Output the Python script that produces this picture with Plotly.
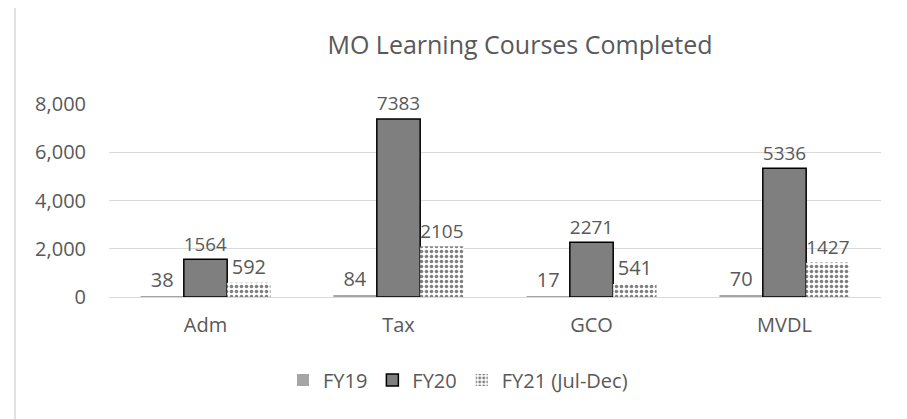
import plotly.graph_objects as go

categories = ["Adm", "Tax", "GCO", "MVDL"]
fy19 = [38, 84, 17, 70]
fy20 = [1564, 7383, 2271, 5336]
fy21 = [592, 2105, 541, 1427]
series_names = ["FY19", "FY20", "FY21 (Jul-Dec)"]
title_text = "MO Learning Courses Completed"
y_ticks = [0, 2000, 4000, 6000, 8000]

FONT = "Open Sans"
TXT = "#595959"

# page has an 8px body margin; plot area targets page x 109..881, y 104..297
OFF = 8
PL, PR, PT, PB = 109, 881, 104, 297
PW, PH = PR - PL, PB - PT

fig = go.Figure()
fig.add_trace(go.Bar(
    name=series_names[0], x=categories, y=fy19,
    marker=dict(color="#A5A5A5", line=dict(width=0)),
    text=[str(v) for v in fy19], textposition="outside",
    textfont=dict(family=FONT, size=20, color=TXT), cliponaxis=False,
))
fig.add_trace(go.Bar(
    name=series_names[1], x=categories, y=fy20,
    marker=dict(color="#7F7F7F", line=dict(width=1.5, color="#000000")),
    text=[str(v) for v in fy20], textposition="outside",
    textfont=dict(family=FONT, size=20, color=TXT), cliponaxis=False,
))
fig.add_trace(go.Bar(
    name=series_names[2], x=categories, y=fy21,
    marker=dict(color="#FFFFFF", line=dict(width=0),
                pattern=dict(shape=".", fgcolor="#000000", bgcolor="#FFFFFF",
                             size=5, solidity=0.4, fillmode="overlay")),
    text=[str(v) for v in fy21], textposition="outside",
    textfont=dict(family=FONT, size=20, color=TXT), cliponaxis=False,
))

W, H = 907, 419
fig.update_layout(
    width=W, height=H,
    margin=dict(l=PL - OFF, r=W - (PR - OFF), t=PT - OFF, b=H - (PB - OFF)),
    paper_bgcolor="#FFFFFF", plot_bgcolor="#FFFFFF",
    barmode="group", bargap=0.326, bargroupgap=0,
    font=dict(family=FONT, color=TXT, size=20),
    title=dict(text=title_text, x=(520 - OFF) / W, xref="container", xanchor="center",
               y=1 - (45 - OFF) / H, yref="container", yanchor="middle",
               font=dict(family=FONT, size=25, color=TXT)),
    showlegend=True,
    legend=dict(orientation="h", x=0.4417 + OFF / PW, xanchor="center",
                y=(PB - 380) / PH, yanchor="middle",
                font=dict(family=FONT, size=20, color=TXT), bgcolor="rgba(0,0,0,0)",
                traceorder="normal"),
    xaxis=dict(showgrid=False, showline=False, zeroline=False, ticks="",
               tickfont=dict(family=FONT, size=20, color=TXT), ticklabelstandoff=14),
    yaxis=dict(range=[0, 8000], tickvals=y_ticks, tickformat=",", showgrid=True,
               gridcolor="#D9D9D9", gridwidth=1, zeroline=True, zerolinecolor="#D9D9D9",
               zerolinewidth=1, showline=False, ticks="",
               tickfont=dict(family=FONT, size=20, color=TXT), ticklabelstandoff=22),
    shapes=[dict(type="rect", xref="paper", yref="paper",
                 x0=(15 - PL) / PW, x1=(1030 - PL) / PW,
                 y0=(PB - 440) / PH, y1=(PB - 6) / PH,
                 line=dict(color="#D9D9D9", width=1.5), fillcolor="rgba(0,0,0,0)",
                 layer="below")],
)

fig.write_html("out.html")
